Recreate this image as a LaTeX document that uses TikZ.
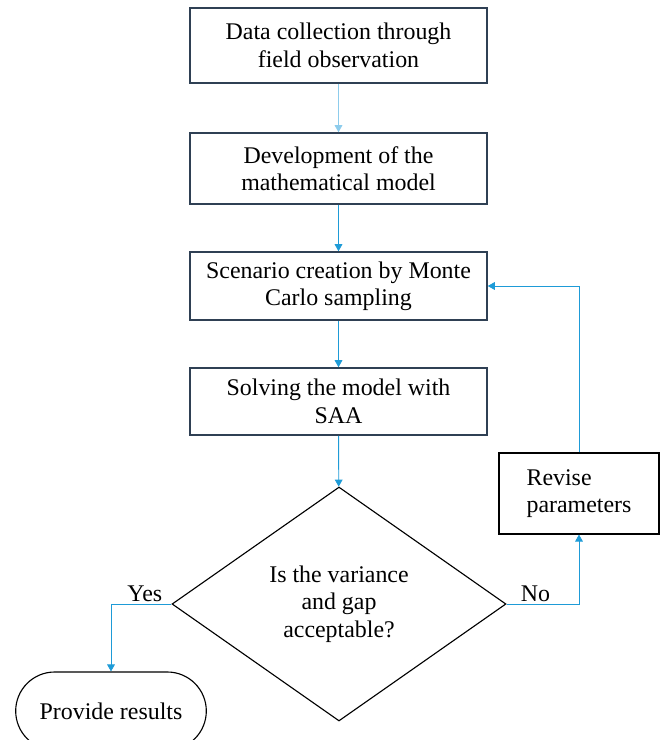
\documentclass[tikz,border=0pt]{standalone}
\usepackage{fontspec}
\setmainfont{Liberation Serif}
\usetikzlibrary{arrows.meta,shapes.geometric,shapes.misc}
\definecolor{edgeblue}{HTML}{1E9BD7}
\definecolor{paleblue}{HTML}{8DCCEC}
\definecolor{boxedge}{HTML}{2F4054}
\begin{document}
\begin{tikzpicture}
			\tikzstyle{PB}=[rectangle,draw=boxedge,line width=1.1pt,minimum width=7.425cm,align=center,inner sep=2pt,font=\fontsize{17}{19.5}\selectfont]
			\tikzstyle{DC}=[diamond,draw=black,line width=0.8pt,minimum width=8.35cm,minimum height=5.85cm,inner sep=0pt,align=center,font=\fontsize{17}{19.5}\selectfont]
			\tikzstyle{TR}=[rounded rectangle,draw=black,line width=0.8pt,minimum width=5cm,minimum height=1.95cm,font=\fontsize{17}{19.5}\selectfont]
			\tikzstyle{AR}=[color=edgeblue,line width=0.6pt,-{Triangle[length=5pt,width=5.5pt]}]
			\tikzstyle{LB}=[above,inner sep=1.5pt,text=black,font=\fontsize{17}{19.5}\selectfont]
			\useasboundingbox (0,0) rectangle (16.525,-18.5);
			\begin{scope}
			\node[PB,minimum height=1.875cm] (collect) at (8.4625,-1.1375) {Data collection through\\field observation};
			\node[PB,minimum height=1.775cm] (model) at (8.4625,-4.2125) {Development of the\\mathematical model};
			\node[PB,minimum height=1.7cm] (scenario) at (8.4625,-7.15) {Scenario creation by Monte\\Carlo sampling};
			\node[PB,minimum height=1.675cm] (solve) at (8.4625,-10.0375) {Solving the model with\\SAA};
			\node[DC] (check) at (8.475,-15.1) {Is the variance\\and gap\\acceptable?};
			\node[rectangle,draw=black,line width=0.8pt,minimum width=4cm,minimum height=2.025cm,align=left,font=\fontsize{17}{19.5}\selectfont] (revise) at (14.475,-12.3375) {Revise\\parameters};
			\node[TR] (results) at (2.775,-17.775) {Provide results};
			\end{scope}
			
			\path[AR]
			(collect) edge[color=paleblue] (model)
			(model) edge (scenario)
			(scenario) edge (solve)
			(solve) edge (check)
			;
			\draw[AR] (check.west) -| node[LB,pos=0.22] {Yes} (results.north);
			\draw[AR] (check.east) -| node[LB,pos=0.2] {No} (revise.south);
			\draw[AR] (revise.north) |- (scenario.east);
		\end{tikzpicture}
\end{document}
